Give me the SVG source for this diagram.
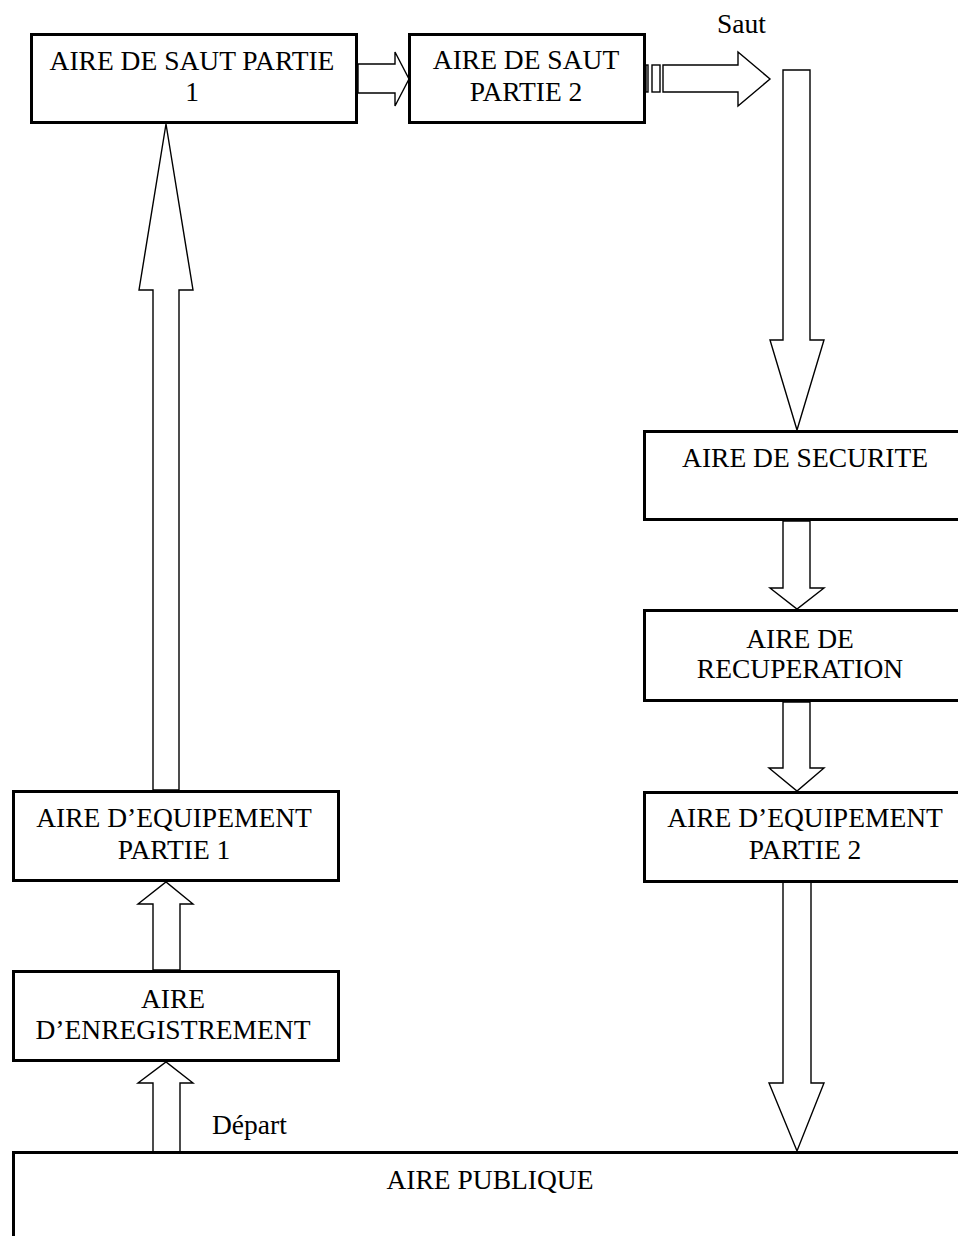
<svg xmlns="http://www.w3.org/2000/svg" width="958" height="1236" viewBox="0 0 958 1236">
<style>
.box{fill:#fff;stroke:#000;stroke-width:3}
.arr{fill:#fff;stroke:#000;stroke-width:1.4;stroke-linejoin:miter}
text{font-family:"Liberation Serif","Times New Roman",serif;font-size:27.5px;fill:#000}
.c{text-anchor:middle}
</style>
<rect width="958" height="1236" fill="#fff"/>
<g id="connectors">
<polygon class="arr" points="358,64 395,64 395,52 409,79 395,106 395,93 358,93"/>
<rect class="arr" x="646" y="65" width="2" height="27"/>
<rect class="arr" x="652" y="65" width="8" height="27"/>
<polygon class="arr" points="663,65 738,65 738,52 770,79 738,106 738,92 663,92"/>
<polygon class="arr" points="783,70 810,70 810,340 824,340 797,430 770,340 783,340"/>
<polygon class="arr" points="783,521 810,521 810,588 824,588 797,609 770,588 783,588"/>
<polygon class="arr" points="783,702 810,702 810,768 824,768 797,791 769,768 783,768"/>
<polygon class="arr" points="783,882 811,882 811,1083 824,1083 797,1151 769,1083 783,1083"/>
<polygon class="arr" points="153,1152 180,1152 180,1083 193,1083 166,1062 138,1083 153,1083"/>
<polygon class="arr" points="153,970 180,970 180,904 193,904 166,882 138,904 153,904"/>
<polygon class="arr" points="153,790 179,790 179,290 193,290 166,124 139,290 153,290"/>
<text x="717" y="33">Saut</text>
<text x="212" y="1134">Départ</text>
</g>
<g id="saut1">
<rect class="box" x="31.5" y="34.5" width="325" height="88"/>
<text class="c" x="192" y="70">AIRE DE SAUT PARTIE</text>
<text class="c" x="192" y="101">1</text>
</g>
<g id="saut2">
<rect class="box" x="409.5" y="34.5" width="235" height="88"/>
<text class="c" x="526" y="69">AIRE DE SAUT</text>
<text class="c" x="526" y="101">PARTIE 2</text>
</g>
<g id="securite">
<rect class="box" x="644.5" y="431.5" width="326" height="88"/>
<text class="c" x="805" y="467">AIRE DE SECURITE</text>
</g>
<g id="recuperation">
<rect class="box" x="644.5" y="610.5" width="326" height="90"/>
<text class="c" x="800" y="648">AIRE DE</text>
<text class="c" x="800" y="678">RECUPERATION</text>
</g>
<g id="equipement2">
<rect class="box" x="644.5" y="792.5" width="326" height="89"/>
<text class="c" x="805" y="827">AIRE D’EQUIPEMENT</text>
<text class="c" x="805" y="859">PARTIE 2</text>
</g>
<g id="equipement1">
<rect class="box" x="13.5" y="791.5" width="325" height="89"/>
<text class="c" x="174" y="827">AIRE D’EQUIPEMENT</text>
<text class="c" x="174" y="859">PARTIE 1</text>
</g>
<g id="enregistrement">
<rect class="box" x="13.5" y="971.5" width="325" height="89"/>
<text class="c" x="173" y="1008">AIRE</text>
<text class="c" x="173" y="1039">D’ENREGISTREMENT</text>
</g>
<g id="publique">
<rect class="box" x="13.5" y="1152.5" width="960" height="200"/>
<text class="c" x="490" y="1189">AIRE PUBLIQUE</text>
</g>
</svg>
